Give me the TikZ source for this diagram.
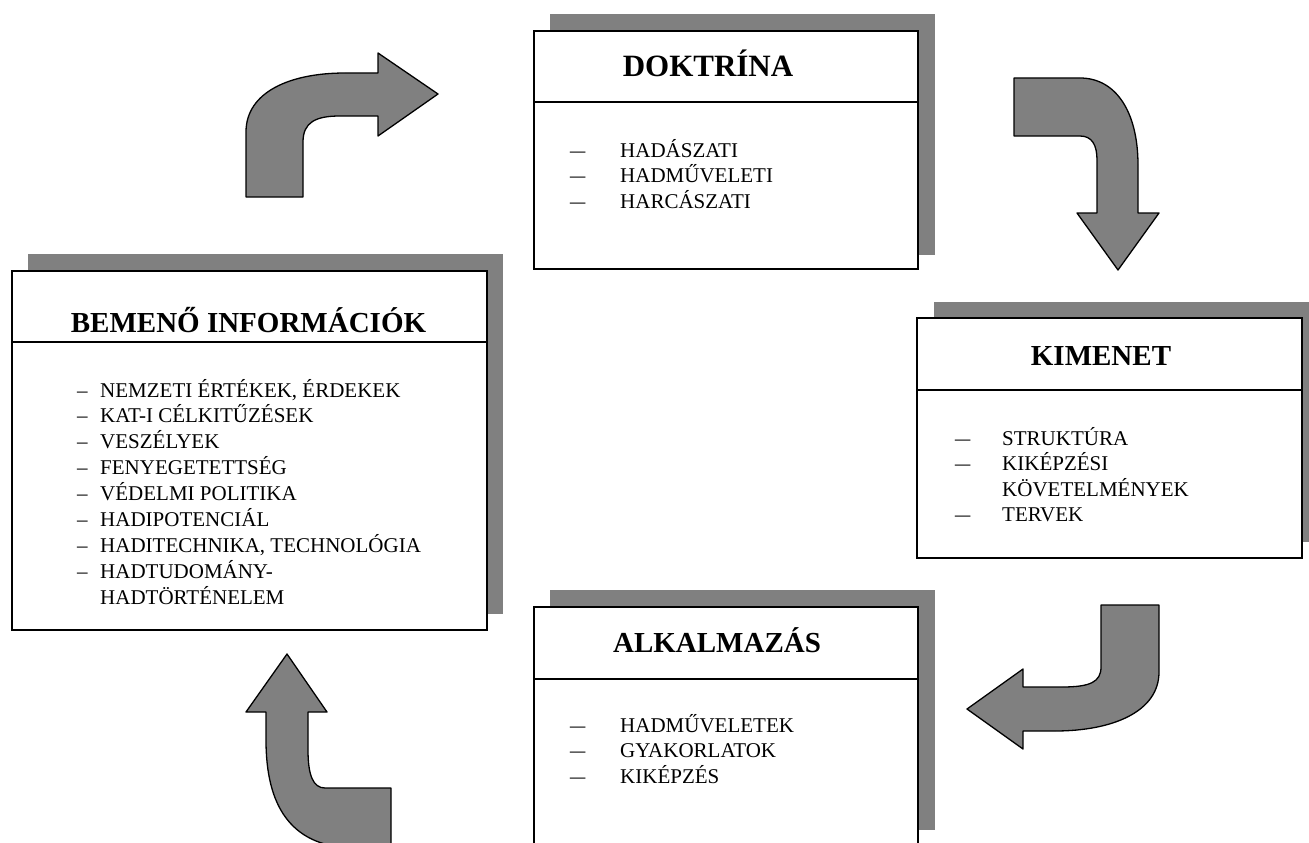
\documentclass[tikz,border=0pt]{standalone}
\usepackage{fontspec}
\usepackage{graphicx}
\setmainfont{Liberation Serif}
\definecolor{shadowgray}{HTML}{808080}
\begin{document}
\begin{tikzpicture}[x=1pt,y=-1pt,
  shadowbox/.style={fill=shadowgray},
  frame/.style={draw=black, fill=white, line width=1.8pt, inner sep=0, outer sep=0},
  divider/.style={line width=1.3pt},
  bigarrow/.style={fill=shadowgray, draw=black, line width=1.3pt, line join=round},
  title/.style={anchor=base, inner sep=0, font=\bfseries\fontsize{29}{34}\selectfont},
  itemtext/.style={anchor=base west, inner sep=0, font=\fontsize{21}{25}\selectfont},
  dashmark/.style={anchor=base west, inner sep=0, font=\fontsize{21}{25}\selectfont},
  widedash/.style={dashmark, execute at begin node={\scalebox{1.45}[1]{–}}}]
\useasboundingbox (0,0) rectangle (1309,843);
\clip (0,0) rectangle (1309,843);

% ---------- shadows ----------
\fill[shadowbox] (28,254) rectangle (503,614);
\fill[shadowbox] (550,14) rectangle (935,255);
\fill[shadowbox] (934,302) rectangle (1315,542);
\fill[shadowbox] (550,590) rectangle (935,830);

% ---------- frames ----------
\node[frame, minimum width=475pt, minimum height=359pt] (bem) at (249.5,450.5) {};
\node[frame, minimum width=384pt, minimum height=238pt] (dok) at (726,150) {};
\node[frame, minimum width=385pt, minimum height=240pt] (kim) at (1109.5,438) {};
\node[frame, minimum width=384pt, minimum height=260pt] (alk) at (726,737) {};

% ---------- dividers ----------
\draw[divider] (bem.west |- 0,342) -- (bem.east |- 0,342);
\draw[divider] (dok.west |- 0,102) -- (dok.east |- 0,102);
\draw[divider] (kim.west |- 0,390) -- (kim.east |- 0,390);
\draw[divider] (alk.west |- 0,679) -- (alk.east |- 0,679);

% ---------- titles ----------
\node[title] (bemt) at (248.5,332) {BEMENŐ INFORMÁCIÓK};
\node[title, font=\bfseries\fontsize{31}{36}\selectfont] (dokt) at (708,77) {DOKTRÍNA};
\node[title] (kimt) at (1101,365) {KIMENET};
\node[title] (alkt) at (717,652) {ALKALMAZÁS};

% ---------- BEMENŐ items ----------
\node[dashmark] (bd1) at (77,397) {–};
\node[itemtext] (bi1) at (100,397) {NEMZETI ÉRTÉKEK, ÉRDEKEK};
\node[dashmark] (bd2) at (77,422.9) {–};
\node[itemtext] (bi2) at (100,422.9) {KAT-I CÉLKITŰZÉSEK};
\node[dashmark] (bd3) at (77,448.8) {–};
\node[itemtext] (bi3) at (100,448.8) {VESZÉLYEK};
\node[dashmark] (bd4) at (77,474.7) {–};
\node[itemtext] (bi4) at (100,474.7) {FENYEGETETTSÉG};
\node[dashmark] (bd5) at (77,500.6) {–};
\node[itemtext] (bi5) at (100,500.6) {VÉDELMI POLITIKA};
\node[dashmark] (bd6) at (77,526.5) {–};
\node[itemtext] (bi6) at (100,526.5) {HADIPOTENCIÁL};
\node[dashmark] (bd7) at (77,552.4) {–};
\node[itemtext] (bi7) at (100,552.4) {HADITECHNIKA, TECHNOLÓGIA};
\node[dashmark] (bd8) at (77,578.3) {–};
\node[itemtext] (bi8) at (100,578.3) {HADTUDOMÁNY-};
\node[itemtext] (bi9) at (100,604.2) {HADTÖRTÉNELEM};

% ---------- DOKTRÍNA items ----------
\node[widedash] (dd1) at (570,157) {};
\node[itemtext] (di1) at (620,157) {HADÁSZATI};
\node[widedash] (dd2) at (570,182.5) {};
\node[itemtext] (di2) at (620,182.5) {HADMŰVELETI};
\node[widedash] (dd3) at (570,208) {};
\node[itemtext] (di3) at (620,208) {HARCÁSZATI};

% ---------- KIMENET items ----------
\node[widedash] (kd1) at (955,445) {};
\node[itemtext] (ki1) at (1002,445) {STRUKTÚRA};
\node[widedash] (kd2) at (955,470.5) {};
\node[itemtext] (ki2) at (1002,470.5) {KIKÉPZÉSI};
\node[itemtext] (ki3) at (1002,496) {KÖVETELMÉNYEK};
\node[widedash] (kd4) at (955,521.5) {};
\node[itemtext] (ki4) at (1002,521.5) {TERVEK};

% ---------- ALKALMAZÁS items ----------
\node[widedash] (ad1) at (570,732) {};
\node[itemtext] (ai1) at (620,732) {HADMŰVELETEK};
\node[widedash] (ad2) at (570,757.5) {};
\node[itemtext] (ai2) at (620,757.5) {GYAKORLATOK};
\node[widedash] (ad3) at (570,783) {};
\node[itemtext] (ai3) at (620,783) {KIKÉPZÉS};

% ---------- bent arrows ----------
% up then right (input -> doctrine)
\draw[bigarrow] (246,197) -- (246,132)
  .. controls (246,92) and (290,73) .. (345,73) -- (378,73) -- (378,53)
  -- (438,94) -- (378,136) -- (378,116) -- (340,116)
  .. controls (316,116) and (303,122) .. (303,142) -- (303,197) -- cycle;
% right then down (doctrine -> output)
\draw[bigarrow] (1014,78) -- (1080,78)
  .. controls (1116,78) and (1138,112) .. (1138,165) -- (1138,213) -- (1159,213)
  -- (1118,270) -- (1077,213) -- (1097,213) -- (1097,160)
  .. controls (1097,145) and (1092,136) .. (1080,136) -- (1014,136) -- cycle;
% down then left (output -> application)
\draw[bigarrow] (1101,605) -- (1159,605) -- (1159,672)
  .. controls (1159,712) and (1112,731) .. (1055,731) -- (1023,731) -- (1023,749)
  -- (967,709) -- (1023,669) -- (1023,687) -- (1062,687)
  .. controls (1090,687) and (1101,682) .. (1101,667) -- cycle;
% left then up (application -> input)
\draw[bigarrow] (391,788) -- (325,788)
  .. controls (313,788) and (308,775) .. (308,750) -- (308,712) -- (327,712)
  -- (287,654) -- (246,712) -- (266,712) -- (266,740)
  .. controls (266,805) and (290,845) .. (350,848) -- (391,848) -- cycle;
\end{tikzpicture}
\end{document}
